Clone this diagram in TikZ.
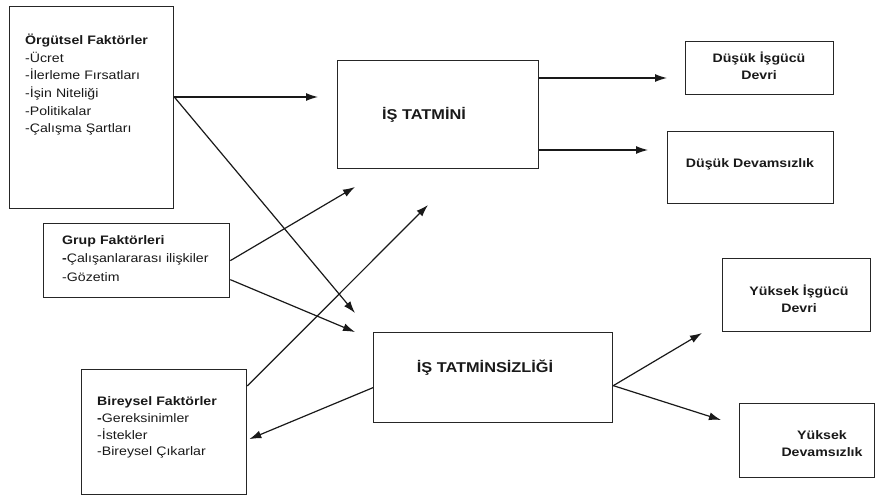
\documentclass[tikz,border=0pt]{standalone}
\usepackage{fontspec}
\setmainfont[FakeStretch=1.15]{Liberation Sans}
\usetikzlibrary{arrows.meta,calc}
\begin{document}
\begin{tikzpicture}[x=1pt,y=-1pt,
  box/.style={draw=black!85, line width=1.3pt, inner sep=0pt, anchor=north west},
  lst/.style={anchor=base west, inner sep=0pt, align=left, text width=220pt, text=black!90},
  mid/.style={inner sep=0pt, text=black!90, font=\bfseries\fontsize{14.2}{17}\selectfont},
  res/.style={inner sep=0pt, align=center, text=black!90, font=\bfseries\fontsize{12.3}{17}\selectfont},
  arr/.style={line width=1.2pt, draw=black!90, -{Latex[length=12pt,width=8pt]}}
]
\useasboundingbox (0,0) rectangle (878,500);
% boxes
\node[box, minimum width=164pt, minimum height=202pt] (org) at (9,6) {};
\node[box, minimum width=186pt, minimum height=74pt] (grp) at (43,223) {};
\node[box, minimum width=165pt, minimum height=125pt] (bir) at (81,369) {};
\node[box, minimum width=201pt, minimum height=108pt] (tat) at (337,60) {};
\node[box, minimum width=239pt, minimum height=90pt] (dis) at (373,332) {};
\node[box, minimum width=148pt, minimum height=53pt] (lt) at (685,41) {};
\node[box, minimum width=166pt, minimum height=72pt] (la) at (667,131) {};
\node[box, minimum width=148pt, minimum height=73pt] (ht) at (722,258) {};
\node[box, minimum width=135pt, minimum height=74pt] (ha) at (739,403) {};
% texts
\node[lst, font=\fontsize{12.3}{17.7}\selectfont] (orgt) at (25,44.5)
  {\textbf{Örgütsel Faktörler}\\-Ücret\\-İlerleme Fırsatları\\-İşin Niteliği\\-Politikalar\\-Çalışma Şartları};
\node[lst, font=\fontsize{12.3}{18.3}\selectfont] (grpt) at (62,244.5)
  {\textbf{Grup Faktörleri}\\\textbf{-}Çalışanlararası ilişkiler\\-Gözetim};
\node[lst, font=\fontsize{12.3}{16.8}\selectfont] (birt) at (97,405.5)
  {\textbf{Bireysel Faktörler}\\\textbf{-}Gereksinimler\\-İstekler\\-Bireysel Çıkarlar};
\node[mid] (tatt) at (424,115) {İŞ TATMİNİ};
\node[mid] (dist) at (485,368) {İŞ TATMİNSİZLİĞİ};
\node[res] (ltt) at (759,66) {Düşük İşgücü\\Devri};
\node[res] (lat) at (750,164) {Düşük Devamsızlık};
\node[res] (htt) at (799,299) {Yüksek İşgücü\\Devri};
\node[res] (hat) at (822,444) {Yüksek\\Devamsızlık};
% arrow ends
\coordinate (a1) at (318,97);
\coordinate (a2) at (355,313);
\coordinate (a3) at (355,187);
\coordinate (a4) at (355,332);
\coordinate (a5) at (428,205);
\coordinate (b1) at (667,78);
\coordinate (b2) at (648,150);
\coordinate (c1) at (702,333);
\coordinate (c2) at (721,420);
% connectors
\draw[arr] (org.east |- a1) -- (a1);
\draw[arr] (org.east |- a1) -- (a2);
\draw[arr] (grp.east) -- (a3);
\draw[arr] ([yshift=-19pt]grp.east) -- (a4);
\draw[arr] ($(bir.north east)+(0,17)$) -- (a5);
\draw[arr] ([yshift=-10pt]dis.west) -- ($(bir.east)+(2,7)$);
\draw[arr] (tat.east |- b1) -- (b1);
\draw[arr] (tat.east |- b2) -- (b2);
\draw[arr] ([yshift=-8pt]dis.east) -- (c1);
\draw[arr] ([yshift=-8pt]dis.east) -- (c2);
\end{tikzpicture}
\end{document}
